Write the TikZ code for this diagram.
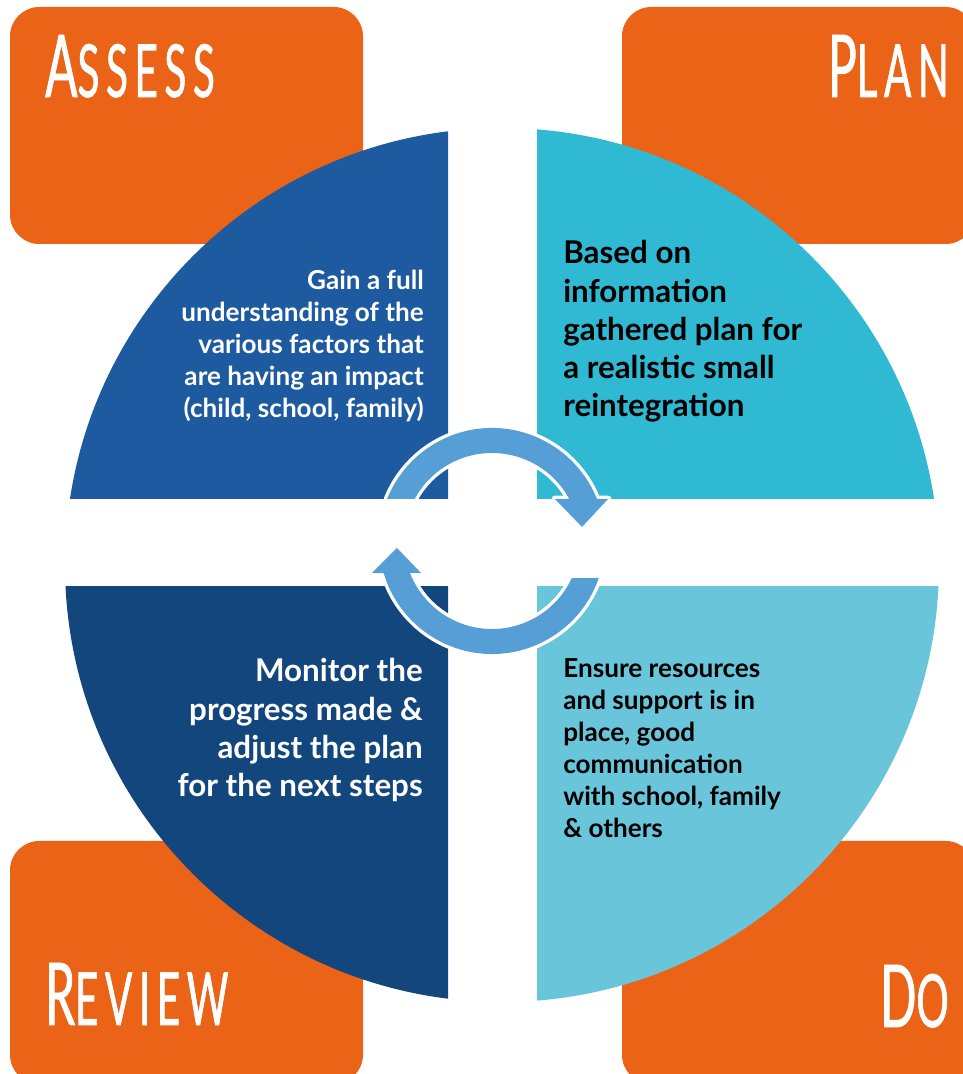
\documentclass[tikz,border=0pt]{standalone}
\usepackage{fontspec}
\setmainfont{Lato}
\newfontfamily\headfont[FakeStretch=0.55, LetterSpace=9, FakeBold=0.9]{Lato}
\usepackage{xcolor}
\definecolor{phaseorange}{RGB}{235,99,22}
\definecolor{assessblue}{RGB}{29,90,160}
\definecolor{plancyan}{RGB}{47,185,210}
\definecolor{reviewnavy}{RGB}{19,70,125}
\definecolor{docyan}{RGB}{105,197,218}
\definecolor{cycleblue}{RGB}{85,158,214}
\newcommand\capword[2]{{\fontsize{65}{65}\selectfont #1}{\fontsize{55}{55}\selectfont #2}}

\begin{document}
\begin{tikzpicture}[x=0.75pt, y=0.75pt,
  phase/.style={fill=phaseorange, rounded corners=22pt},
  head/.style={font=\headfont, text=white, inner sep=0},
  note/.style={inner sep=0, font=\bfseries},
  cycle/.style={fill=cycleblue, preaction={draw=white, line width=5pt, line join=round}}
]
\useasboundingbox (0,0) rectangle (963,1074);

% orange corner boxes
\fill[phase] (10,830) rectangle (363,1067);
\fill[phase] (622,830) rectangle (975,1067);
\fill[phase] (10,-10) rectangle (363,233);
\fill[phase] (622,-10) rectangle (975,233);

\node[head, anchor=base west] (assess) at (45,977) {\capword{A}{SSESS}};
\node[head, anchor=base east] (plan) at (949,977) {\capword{P}{LAN}};
\node[head, anchor=base west] (review) at (45,49) {\capword{R}{EVIEW}};
\node[head, anchor=base east] (do) at (949,47) {\capword{D}{O}};

% quarters of the circle
\foreach \col/\xa/\ya/\xb/\yb in {assessblue/0/575/448/1074, plancyan/537/575/963/1074,
    reviewnavy/0/0/448/487, docyan/537/0/963/487} {
  \begin{scope}
    \clip (\xa,\ya) rectangle (\xb,\yb);
    \fill[\col] (502,509) circle[radius=437];
  \end{scope}
}

% circular arrows
\fill[cycle] (387.1,575) arc[start angle=158.2, end angle=21.8, radius=113]
  -- (608,575) -- (582,547) -- (555,575) -- (569.3,575)
  arc[start angle=28.5, end angle=151.5, radius=88] -- cycle;
\fill[cycle] (598.8,496) arc[start angle=-19.1, end angle=-163.55, radius=113]
  -- (372,501) -- (397,526) -- (421,501) -- (410,501)
  arc[start angle=-158.7, end angle=-24.9, radius=88] -- cycle;

% texts (anchored at the baseline of the last line)
\node[note, text=white, align=right, anchor=base east, font=\fontsize{19.6}{24}\selectfont\bfseries]
  (assesstext) at (424,656) {Gain a full\\understanding of the\\various factors that\\are having an impact\\(child, school, family)};
\node[note, text=black, align=left, anchor=base west, font=\fontsize{23.5}{28.7}\selectfont\bfseries]
  (plantext) at (563,657) {Based on\\information\\gathered plan for\\a realistic small\\reintegration};
\node[note, text=white, align=right, anchor=base east, font=\fontsize{23.5}{28.8}\selectfont\bfseries]
  (reviewtext) at (423,277) {Monitor the\\progress made \&\\adjust the plan\\for the next steps};
\node[note, text=black, align=left, anchor=base west, font=\fontsize{19.6}{24}\selectfont\bfseries]
  (dotext) at (563,236) {Ensure resources\\and support is in\\place, good\\communication\\with school, family\\\& others};
\end{tikzpicture}
\end{document}
